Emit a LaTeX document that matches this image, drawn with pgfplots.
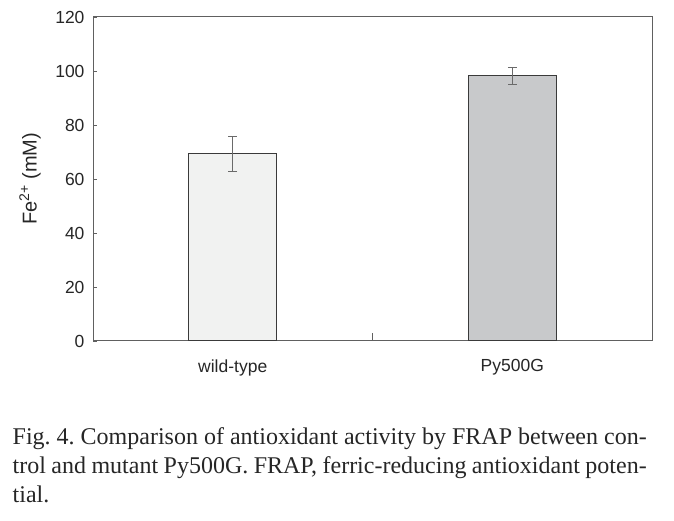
\documentclass[border=0pt]{standalone}
\usepackage{fontspec}
\setmainfont{Liberation Serif}
\newfontfamily\arial{Liberation Sans}
\usepackage{pgfplots}
\usepackage{pgfplotstable}
\pgfplotsset{compat=1.18}
\definecolor{axgray}{HTML}{606060}
\definecolor{errgray}{HTML}{6A6A6A}
\definecolor{edgegray}{HTML}{3A3A3A}
\definecolor{wtfill}{HTML}{F1F2F1}
\definecolor{pyfill}{HTML}{C8C9CB}
\pgfplotstableread{
x y err
0 69.3 6.4
}\wtdata
\pgfplotstableread{
x y err
1 98.2 3.1
}\pydata
\begin{document}
\begin{tikzpicture}
\path[use as bounding box] (0,0) rectangle (674bp,521bp);
\begin{axis}[
  at={(93bp,180bp)}, anchor=south west,
  scale only axis, width=559bp, height=324bp,
  xmin=-0.5, xmax=1.5, ymin=0, ymax=120,
  ytick={0,20,...,120},
  xtick={0,1}, xticklabels={wild-type,Py500G},
  tick pos=left,
  x tick style={draw=none},
  extra x ticks={0.5,1.5}, extra x tick labels={},
  extra x tick style={x tick style={draw=axgray, line width=0.8bp}, major tick length=8bp, tick align=inside, tick pos=left},
  y tick style={draw=axgray, line width=0.8bp},
  tick align=inside, major tick length=4bp,
  axis line style={axgray, line width=1bp},
  /pgf/number format/assume math mode=true,
  tick label style={font=\arial\fontsize{17.5bp}{20bp}\selectfont, text=black!85},
  yticklabel style={xshift=-5bp},
  xticklabel style={yshift=-11bp},
  ylabel={\arial\fontsize{20bp}{24bp}\selectfont Fe\textsuperscript{2+} (mM)},
  ylabel style={at={(axis description cs:-0.093,0.5)}, anchor=south, inner sep=0pt, text=black!85},
  ybar, bar width=88bp, bar shift=0pt,
  error bars/error bar style={errgray, line width=0.8bp},
  error bars/error mark options={rotate=90, errgray, mark size=4.3bp, line width=0.8bp},
]
\addplot[fill=wtfill, draw=edgegray, line width=1bp,
  error bars/.cd, y dir=both, y explicit]
  table[x=x, y=y, y error=err] {\wtdata};
\addplot[fill=pyfill, draw=edgegray, line width=1bp,
  error bars/.cd, y dir=both, y explicit]
  table[x=x, y=y, y error=err] {\pydata};
\end{axis}
\node[anchor=base west, inner sep=0pt, text=black!85] at (12.5bp,76bp) {\parbox[t]{634bp}{\frenchspacing\fontsize{24bp}{29bp}\selectfont
Fig. 4. Comparison of antioxidant activity by FRAP between con-\linebreak
trol and mutant Py500G. FRAP, ferric-reducing antioxidant poten-\linebreak
tial.}};
\end{tikzpicture}
\end{document}
